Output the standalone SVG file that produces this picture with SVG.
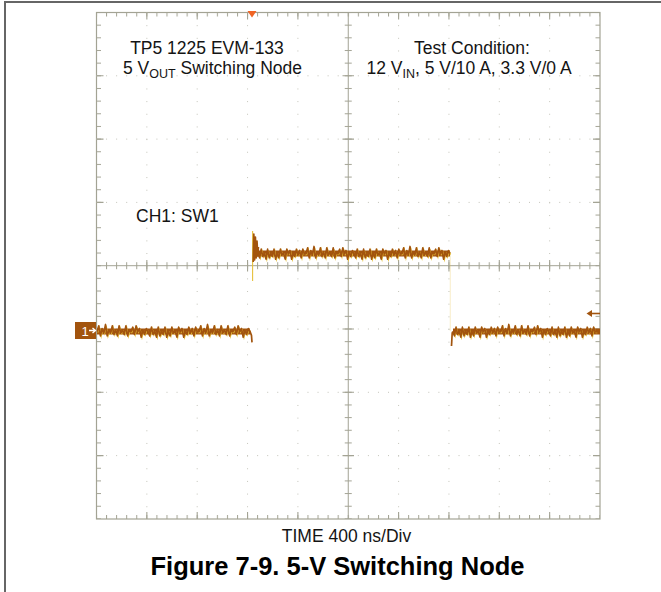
<svg xmlns="http://www.w3.org/2000/svg" width="661" height="592" viewBox="0 0 661 592">
<style>
.lbl{font-family:"Liberation Sans",Arial,sans-serif;font-size:17.5px;fill:#141414}
.ttl{font-family:"Liberation Sans",Arial,sans-serif;font-size:25.5px;font-weight:bold;fill:#000}
.sub{font-size:12.5px}
.gv{stroke:#c4c4ba;stroke-width:1;stroke-dasharray:1 11.66;fill:none}
.gh{stroke:#c4c4ba;stroke-width:1;stroke-dasharray:1 9.07;fill:none}
.ax{stroke:#a3a394;stroke-width:1;fill:none}
.maj{stroke:#a3a394;stroke-width:1.1;fill:none}
.tr{stroke:#a2540e;stroke-width:1.7;fill:none;stroke-linejoin:round}
.try{stroke:#e6c03c;stroke-width:1.1;fill:none}
.band{fill:#a2540e}
</style>
<defs>
<pattern id="tickX" patternUnits="userSpaceOnUse" x="96" y="0" width="10.07" height="592"><rect x="0" y="0" width="1" height="592" fill="#a3a394"/></pattern>
<pattern id="tickY" patternUnits="userSpaceOnUse" x="0" y="12" width="661" height="12.66"><rect x="0" y="0" width="661" height="1" fill="#a3a394"/></pattern>
</defs>
<rect width="661" height="592" fill="#fff"/>
<g id="page-frame" stroke="#666" stroke-width="2" fill="none">
<path d="M5,592 V2 H661"/>
</g>
<g id="graticule">
<rect x="96.5" y="12.5" width="503.5" height="506.5" fill="#fff" stroke="#a3a394" stroke-width="1.2"/>
<g id="grid-dots">
<path class="gv" d="M146.85,12.5V519M197.2,12.5V519M247.55,12.5V519M297.9,12.5V519M398.6,12.5V519M448.95,12.5V519M499.3,12.5V519M549.65,12.5V519"/>
<path class="gh" d="M96,75.8H600M96,139.1H600M96,202.4H600M96,329H600M96,392.3H600M96,455.6H600"/>
</g>
<g id="axes">
<path class="ax" d="M96.5,265.7H600M348.25,12.5V519"/>
</g>
<g id="minor-ticks">
<rect x="96.5" y="12.5" width="503.5" height="4" fill="url(#tickX)"/>
<rect x="96.5" y="515" width="503.5" height="4" fill="url(#tickX)"/>
<rect x="96.5" y="262.2" width="503.5" height="7" fill="url(#tickX)"/>
<rect x="96.5" y="12.5" width="4.5" height="506.5" fill="url(#tickY)"/>
<rect x="595.5" y="12.5" width="4.5" height="506.5" fill="url(#tickY)"/>
<rect x="344.75" y="12.5" width="7" height="506.5" fill="url(#tickY)"/>
</g>
<g id="major-ticks">
<path class="maj" d="M146.85,12.5v7M197.2,12.5v7M247.55,12.5v7M297.9,12.5v7M398.6,12.5v7M448.95,12.5v7M499.3,12.5v7M549.65,12.5v7"/>
<path class="maj" d="M146.85,519v-7M197.2,519v-7M247.55,519v-7M297.9,519v-7M398.6,519v-7M448.95,519v-7M499.3,519v-7M549.65,519v-7"/>
<path class="maj" d="M146.85,260v11.4M197.2,260v11.4M247.55,260v11.4M297.9,260v11.4M398.6,260v11.4M448.95,260v11.4M499.3,260v11.4M549.65,260v11.4"/>
<path class="maj" d="M96.5,75.8h7M96.5,139.1h7M96.5,202.4h7M96.5,329h7M96.5,392.3h7M96.5,455.6h7"/>
<path class="maj" d="M600,75.8h-7M600,139.1h-7M600,202.4h-7M600,329h-7M600,392.3h-7M600,455.6h-7"/>
<path class="maj" d="M342.5,75.8h11.5M342.5,139.1h11.5M342.5,202.4h11.5M342.5,329h11.5M342.5,392.3h11.5M342.5,455.6h11.5"/>
</g>
</g>
<g id="trace-ch1">
<rect class="band" x="97" y="328.5" width="153" height="6"/>
<rect class="band" x="257" y="250.5" width="193" height="6"/>
<rect class="band" x="453" y="328.5" width="147" height="6"/>
<path class="try" transform="matrix(1,0,0,1.35,0,-116.4)" d="M97.8,332.5 l1.7,-4 1.7,7 1.7,-5 1.7,3 1.7,-6 1.7,8 1.7,-4 1.7,2 1.7,-5 1.7,6 1.7,-3 1.7,4 1.7,-7 1.7,5 1.7,-2 1.7,3 1.7,-6 1.7,7 1.7,-4 1.7,1 1.7,-3 1.7,5 1.7,-6 1.7,4 1.7,-2 1.7,6 1.7,-5 1.7,3 1.7,-4 1.7,2 l1.7,3 1.7,-6 1.7,5 1.7,-2 1.7,4 1.7,-7 1.7,6 1.7,-3 1.7,2 1.7,-5 1.7,7 1.7,-4 1.7,3 1.7,-6 1.7,4 1.7,-1 1.7,4 1.7,-7 1.7,3 1.7,-2 1.7,6 1.7,-4 1.7,2 1.7,-5 1.7,4 1.7,-3 1.7,5 1.7,-6 1.7,3 1.7,0 l1.7,-4 1.7,7 1.7,-5 1.7,3 1.7,-6 1.7,8 1.7,-4 1.7,2 1.7,-5 1.7,6 1.7,-3 1.7,4 1.7,-7 1.7,5 1.7,-2 1.7,3 1.7,-6 1.7,7 1.7,-4 1.7,1 1.7,-3 1.7,5 1.7,-6 1.7,4 1.7,-2 1.7,6 1.7,-5 1.7,3 1.7,-4 1.7,2"/>
<path class="tr" transform="matrix(1,0,0,1.35,0,-116)" d="M97,331.5 l1.7,-4 1.7,7 1.7,-5 1.7,3 1.7,-6 1.7,8 1.7,-4 1.7,2 1.7,-5 1.7,6 1.7,-3 1.7,4 1.7,-7 1.7,5 1.7,-2 1.7,3 1.7,-6 1.7,7 1.7,-4 1.7,1 1.7,-3 1.7,5 1.7,-6 1.7,4 1.7,-2 1.7,6 1.7,-5 1.7,3 1.7,-4 1.7,2 l1.7,3 1.7,-6 1.7,5 1.7,-2 1.7,4 1.7,-7 1.7,6 1.7,-3 1.7,2 1.7,-5 1.7,7 1.7,-4 1.7,3 1.7,-6 1.7,4 1.7,-1 1.7,4 1.7,-7 1.7,3 1.7,-2 1.7,6 1.7,-4 1.7,2 1.7,-5 1.7,4 1.7,-3 1.7,5 1.7,-6 1.7,3 1.7,0 l1.7,-4 1.7,7 1.7,-5 1.7,3 1.7,-6 1.7,8 1.7,-4 1.7,2 1.7,-5 1.7,6 1.7,-3 1.7,4 1.7,-7 1.7,5 1.7,-2 1.7,3 1.7,-6 1.7,7 1.7,-4 1.7,1 1.7,-3 1.7,5 1.7,-6 1.7,4 1.7,-2 1.7,6 1.7,-5 1.7,3 1.7,-4 1.7,2 l1.5,3 0.5,5"/>
<path class="try" stroke-width="1.3" d="M252.6,281 V231"/>
<path class="tr" d="M253.2,262 L253.8,234 L254.6,260 L255.4,237 L256.2,258 L257,241 L257.8,256 L258.4,247"/>
<path class="try" transform="matrix(1,0,0,1.35,0,-89.1)" d="M258.8,254.5 l1.6,3 1.6,-6 1.6,5 1.6,-2 1.6,4 1.6,-7 1.6,6 1.6,-3 1.6,2 1.6,-5 1.6,7 1.6,-4 1.6,3 1.6,-6 1.6,4 1.6,-1 1.6,4 1.6,-7 1.6,3 1.6,-2 1.6,6 1.6,-4 1.6,2 1.6,-5 1.6,4 1.6,-3 1.6,5 1.6,-6 1.6,3 1.6,0 l1.6,-4 1.6,7 1.6,-5 1.6,3 1.6,-6 1.6,8 1.6,-4 1.6,2 1.6,-5 1.6,6 1.6,-3 1.6,4 1.6,-7 1.6,5 1.6,-2 1.6,3 1.6,-6 1.6,7 1.6,-4 1.6,1 1.6,-3 1.6,5 1.6,-6 1.6,4 1.6,-2 1.6,6 1.6,-5 1.6,3 1.6,-4 1.6,2 l1.6,3 1.6,-6 1.6,5 1.6,-2 1.6,4 1.6,-7 1.6,6 1.6,-3 1.6,2 1.6,-5 1.6,7 1.6,-4 1.6,3 1.6,-6 1.6,4 1.6,-1 1.6,4 1.6,-7 1.6,3 1.6,-2 1.6,6 1.6,-4 1.6,2 1.6,-5 1.6,4 1.6,-3 1.6,5 1.6,-6 1.6,3 1.6,0 l1.6,-4 1.6,7 1.6,-5 1.6,3 1.6,-6 1.6,8 1.6,-4 1.6,2 1.6,-5 1.6,6 1.6,-3 1.6,4 1.6,-7 1.6,5 1.6,-2 1.6,3 1.6,-6 1.6,7 1.6,-4 1.6,1 1.6,-3 1.6,5 1.6,-6 1.6,4 1.6,-2 1.6,6 1.6,-5 1.6,3 1.6,-4 1.6,2"/>
<path class="tr" transform="matrix(1,0,0,1.35,0,-88.7)" d="M258,253.5 l1.6,3 1.6,-6 1.6,5 1.6,-2 1.6,4 1.6,-7 1.6,6 1.6,-3 1.6,2 1.6,-5 1.6,7 1.6,-4 1.6,3 1.6,-6 1.6,4 1.6,-1 1.6,4 1.6,-7 1.6,3 1.6,-2 1.6,6 1.6,-4 1.6,2 1.6,-5 1.6,4 1.6,-3 1.6,5 1.6,-6 1.6,3 1.6,0 l1.6,-4 1.6,7 1.6,-5 1.6,3 1.6,-6 1.6,8 1.6,-4 1.6,2 1.6,-5 1.6,6 1.6,-3 1.6,4 1.6,-7 1.6,5 1.6,-2 1.6,3 1.6,-6 1.6,7 1.6,-4 1.6,1 1.6,-3 1.6,5 1.6,-6 1.6,4 1.6,-2 1.6,6 1.6,-5 1.6,3 1.6,-4 1.6,2 l1.6,3 1.6,-6 1.6,5 1.6,-2 1.6,4 1.6,-7 1.6,6 1.6,-3 1.6,2 1.6,-5 1.6,7 1.6,-4 1.6,3 1.6,-6 1.6,4 1.6,-1 1.6,4 1.6,-7 1.6,3 1.6,-2 1.6,6 1.6,-4 1.6,2 1.6,-5 1.6,4 1.6,-3 1.6,5 1.6,-6 1.6,3 1.6,0 l1.6,-4 1.6,7 1.6,-5 1.6,3 1.6,-6 1.6,8 1.6,-4 1.6,2 1.6,-5 1.6,6 1.6,-3 1.6,4 1.6,-7 1.6,5 1.6,-2 1.6,3 1.6,-6 1.6,7 1.6,-4 1.6,1 1.6,-3 1.6,5 1.6,-6 1.6,4 1.6,-2 1.6,6 1.6,-5 1.6,3 1.6,-4 1.6,2"/>
<path class="try" stroke-width="0.6" opacity="0.25" d="M450.3,254 V331"/>
<path class="try" transform="matrix(1,0,0,1.35,0,-116.4)" d="M453.5,332.5 l1.6,3 1.6,-6 1.6,5 1.6,-2 1.6,4 1.6,-7 1.6,6 1.6,-3 1.6,2 1.6,-5 1.6,7 1.6,-4 1.6,3 1.6,-6 1.6,4 1.6,-1 1.6,4 1.6,-7 1.6,3 1.6,-2 1.6,6 1.6,-4 1.6,2 1.6,-5 1.6,4 1.6,-3 1.6,5 1.6,-6 1.6,3 1.6,0 l1.6,-4 1.6,7 1.6,-5 1.6,3 1.6,-6 1.6,8 1.6,-4 1.6,2 1.6,-5 1.6,6 1.6,-3 1.6,4 1.6,-7 1.6,5 1.6,-2 1.6,3 1.6,-6 1.6,7 1.6,-4 1.6,1 1.6,-3 1.6,5 1.6,-6 1.6,4 1.6,-2 1.6,6 1.6,-5 1.6,3 1.6,-4 1.6,2 l1.6,3 1.6,-6 1.6,5 1.6,-2 1.6,4 1.6,-7 1.6,6 1.6,-3 1.6,2 1.6,-5 1.6,7 1.6,-4 1.6,3 1.6,-6 1.6,4 1.6,-1 1.6,4 1.6,-7 1.6,3 1.6,-2 1.6,6 1.6,-4 1.6,2 1.6,-5 1.6,4 1.6,-3 1.6,5 1.6,-6 1.6,3 1.6,0"/>
<path class="tr" d="M451.5,346 L452.2,333 L452.8,331.5"/>
<path class="tr" transform="matrix(1,0,0,1.35,0,-116)" d="M452.8,331.5 l1.6,3 1.6,-6 1.6,5 1.6,-2 1.6,4 1.6,-7 1.6,6 1.6,-3 1.6,2 1.6,-5 1.6,7 1.6,-4 1.6,3 1.6,-6 1.6,4 1.6,-1 1.6,4 1.6,-7 1.6,3 1.6,-2 1.6,6 1.6,-4 1.6,2 1.6,-5 1.6,4 1.6,-3 1.6,5 1.6,-6 1.6,3 1.6,0 l1.6,-4 1.6,7 1.6,-5 1.6,3 1.6,-6 1.6,8 1.6,-4 1.6,2 1.6,-5 1.6,6 1.6,-3 1.6,4 1.6,-7 1.6,5 1.6,-2 1.6,3 1.6,-6 1.6,7 1.6,-4 1.6,1 1.6,-3 1.6,5 1.6,-6 1.6,4 1.6,-2 1.6,6 1.6,-5 1.6,3 1.6,-4 1.6,2 l1.6,3 1.6,-6 1.6,5 1.6,-2 1.6,4 1.6,-7 1.6,6 1.6,-3 1.6,2 1.6,-5 1.6,7 1.6,-4 1.6,3 1.6,-6 1.6,4 1.6,-1 1.6,4 1.6,-7 1.6,3 1.6,-2 1.6,6 1.6,-4 1.6,2 1.6,-5 1.6,4 1.6,-3 1.6,5 1.6,-6 1.6,3 1.6,0 l3,0"/>
</g>
<g id="markers">
<path id="trigger-pos" d="M247.5,11 H256.5 L252,17.5 Z" fill="#f06424"/>
<g id="ch1-marker">
<rect x="75" y="322" width="21" height="17" fill="#a2540e"/>
<text x="81.5" y="336" font-family="Liberation Sans,Arial,sans-serif" font-size="13" fill="#fff">1</text>
<path d="M89,330.5 H95 M92.5,328 L95.5,330.5 L92.5,333" stroke="#fff" stroke-width="1.4" fill="none"/>
</g>
<g id="trigger-level">
<path d="M589,313.5 H600" stroke="#a2540e" stroke-width="1.6"/>
<path d="M586.5,313.5 L592,310 L592,317 Z" fill="#a2540e"/>
</g>
</g>
<g id="labels">
<text class="lbl" x="207" y="54" text-anchor="middle">TP5 1225 EVM-133</text>
<text class="lbl" x="212.5" y="74" text-anchor="middle">5 V<tspan class="sub" dy="4">OUT</tspan><tspan dy="-4"> Switching Node</tspan></text>
<text class="lbl" x="472" y="54" text-anchor="middle">Test Condition:</text>
<text class="lbl" x="469" y="74" text-anchor="middle">12 V<tspan class="sub" dy="4">IN</tspan><tspan dy="-4">, 5 V/10 A, 3.3 V/0 A</tspan></text>
<text class="lbl" x="136" y="222">CH1: SW1</text>
<text class="lbl" x="346.5" y="542" text-anchor="middle">TIME 400 ns/Div</text>
<text class="ttl" x="337.5" y="575" text-anchor="middle">Figure 7-9. 5-V Switching Node</text>
</g>
</svg>
